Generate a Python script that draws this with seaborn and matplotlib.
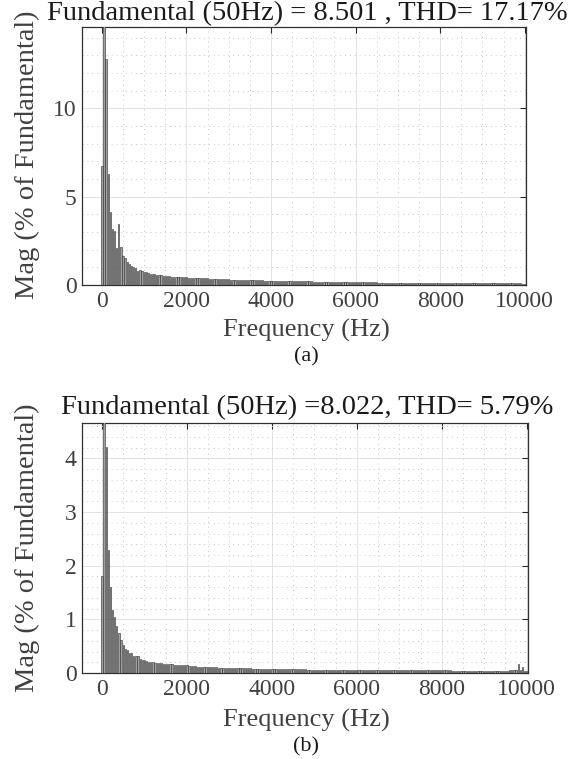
import numpy as np
import pandas as pd
import matplotlib
matplotlib.use("Agg")
import matplotlib.pyplot as plt
from matplotlib.ticker import MultipleLocator
import seaborn as sns

# ---------------- data ----------------
freq_step = 50
titles = ["Fundamental (50Hz) = 8.501 , THD= 17.17%",
          "Fundamental (50Hz) =8.022, THD= 5.79%"]
panel_labels = ["(a)", "(b)"]
x_ticks = [0, 2000, 4000, 6000, 8000, 10000]
y_ticks_a = [0, 5, 10]
y_ticks_b = [0, 1, 2, 3, 4]

mag_a = [
    6.74, 100.0, 12.8, 6.30, 4.14, 3.15, 3.06, 2.10, 3.43, 2.13,
    1.66, 1.53, 1.32, 1.17, 1.07, 1.02, 0.98, 0.79, 0.85, 0.79,
    0.75, 0.71, 0.68, 0.64, 0.62, 0.60, 0.58, 0.56, 0.55, 0.53,
    0.51,
    0.50, 0.49, 0.48, 0.47, 0.47, 0.46, 0.45, 0.44, 0.44, 0.43,
    0.42, 0.42, 0.41, 0.40, 0.40, 0.39, 0.38, 0.38, 0.37, 0.37,
    0.36, 0.36, 0.35, 0.35, 0.34, 0.34, 0.33, 0.33, 0.32, 0.32,
    0.31, 0.31, 0.30, 0.30, 0.30, 0.29, 0.29, 0.28, 0.28, 0.28,
    0.27, 0.27, 0.27, 0.26, 0.26, 0.26, 0.25, 0.25, 0.25, 0.24,
    0.24, 0.24, 0.23, 0.23, 0.23, 0.23, 0.22, 0.22, 0.22, 0.22,
    0.21, 0.21, 0.21, 0.21, 0.20, 0.20, 0.20, 0.20, 0.20, 0.19,
    0.19, 0.19, 0.19, 0.19, 0.18, 0.18, 0.18, 0.18, 0.18, 0.18,
    0.17, 0.17, 0.17, 0.17, 0.17, 0.17, 0.16, 0.16, 0.16, 0.16,
    0.16, 0.16, 0.16, 0.15, 0.15, 0.15, 0.15, 0.15, 0.15, 0.15,
    0.14, 0.14, 0.14, 0.14, 0.14, 0.14, 0.14, 0.14, 0.13, 0.13,
    0.13, 0.13, 0.13, 0.13, 0.13, 0.13, 0.13, 0.12, 0.12, 0.12,
    0.12, 0.12, 0.12, 0.12, 0.12, 0.12, 0.12, 0.11, 0.11, 0.11,
    0.11, 0.11, 0.11, 0.11, 0.11, 0.11, 0.11, 0.11, 0.10, 0.10,
    0.10, 0.10, 0.10, 0.10, 0.10, 0.10, 0.10, 0.10, 0.10, 0.10,
    0.10, 0.09, 0.09, 0.09, 0.09, 0.09, 0.09, 0.09, 0.09, 0.09,
    0.09, 0.09, 0.09, 0.09, 0.09, 0.10, 0.14, 0.09, 0.08, 0.08,
]

mag_b = [
    1.80, 100.0, 4.22, 2.29, 1.60, 1.17, 1.04, 0.87, 0.75, 0.61,
    0.53, 0.45, 0.42, 0.37, 0.37, 0.32, 0.31, 0.31, 0.26, 0.25,
    0.24, 0.23, 0.21, 0.20, 0.20,
    0.19, 0.19, 0.18, 0.18, 0.17, 0.17, 0.16, 0.16, 0.16, 0.15,
    0.15, 0.15, 0.14, 0.14, 0.14, 0.14,
    0.13, 0.13, 0.13, 0.13, 0.12, 0.12, 0.12, 0.12, 0.12, 0.11,
    0.11, 0.11, 0.11, 0.11, 0.10, 0.10, 0.10, 0.10, 0.10, 0.10,
    0.095, 0.095, 0.09, 0.09, 0.09, 0.09, 0.085, 0.085, 0.085, 0.085,
    0.08, 0.08, 0.08, 0.08, 0.08, 0.08, 0.078, 0.078, 0.075, 0.075,
    0.075, 0.075, 0.072, 0.072, 0.072, 0.07, 0.07, 0.07, 0.07, 0.07,
    0.068, 0.068, 0.068, 0.066, 0.066, 0.066, 0.065, 0.065, 0.064, 0.064,
    0.063, 0.063, 0.062, 0.062, 0.062, 0.061, 0.061, 0.06, 0.06, 0.06,
    0.06, 0.059, 0.059, 0.058, 0.058, 0.058, 0.057, 0.057, 0.057, 0.056,
    0.056, 0.056, 0.055, 0.055, 0.055, 0.054, 0.054, 0.054, 0.053, 0.053,
    0.053, 0.053, 0.052, 0.052, 0.052, 0.052, 0.051, 0.051, 0.051, 0.051,
    0.05, 0.05, 0.05, 0.05, 0.05, 0.05, 0.049, 0.049, 0.049, 0.049,
    0.049, 0.048, 0.048, 0.048, 0.048, 0.048, 0.048, 0.047, 0.047, 0.047,
    0.047, 0.047, 0.047, 0.047, 0.046, 0.046, 0.046, 0.046, 0.046, 0.046,
    0.046, 0.045, 0.045, 0.045, 0.045, 0.045, 0.045, 0.045, 0.045, 0.045,
    0.044, 0.044, 0.044, 0.044, 0.044, 0.044, 0.044, 0.044, 0.045, 0.046,
    0.046, 0.047, 0.048, 0.05, 0.06, 0.17, 0.06, 0.11, 0.04, 0.03,
]

freqs = np.arange(len(mag_a)) * freq_step

# ---------------- style ----------------
sns.set_style("white")
plt.rcParams["font.family"] = ["Liberation Serif", "DejaVu Serif"]
TXT = "#262626"

fig = plt.figure(figsize=(5.73, 7.59), dpi=100)
W, H = 573.0, 759.0

def add_axes(l, r, t, b):
    return fig.add_axes([l / W, 1 - b / H, (r - l) / W, (b - t) / H])

ax_a = add_axes(82, 526, 27, 285)
ax_b = add_axes(82, 528, 423, 673)

panels = [
    (ax_a, mag_a, 14.6, y_ticks_a, 1.0, titles[0], panel_labels[0], 14, 330, 357),
    (ax_b, mag_b, 4.66, y_ticks_b, 0.2, titles[1], panel_labels[1], 408, 720, 747),
]

for ax, mags, ymax, yt, yminor, title, plab, ty, xl_y, pl_y in panels:
    df = pd.DataFrame({"freq": freqs, "mag": mags})
    sns.barplot(data=df, x="freq", y="mag", native_scale=True, width=0.6,
                color="#a0a0a0", edgecolor="#2a2a2a", linewidth=0.4,
                saturation=1, errorbar=None, ax=ax, zorder=3)
    ax.set_xlim(-470, 10030)
    ax.set_ylim(0, ymax)
    ax.set_xticks(x_ticks)
    ax.set_yticks(yt)
    ax.xaxis.set_minor_locator(MultipleLocator(500))
    ax.yaxis.set_minor_locator(MultipleLocator(yminor))
    ax.set_axisbelow(True)
    ax.grid(which="major", color="#e3e3e3", linewidth=0.7, linestyle="-")
    ax.grid(which="minor", color="#c8c8c8", linewidth=0.7, linestyle=(0, (1, 4)))
    ax.tick_params(which="major", direction="in", length=4, width=0.8,
                   color=TXT, top=True, right=True, labelsize=17,
                   labelcolor="#404040", pad=4)
    ax.tick_params(which="minor", length=0)
    for s in ax.spines.values():
        s.set_color("#303030")
        s.set_linewidth(0.9)
        s.set_visible(True)
    ax.set_xlabel("")
    ax.set_ylabel("")
    fig.text(307 / W, 1 - ty / H, title, ha="center", va="center",
             fontsize=20.5, color="#1a1a1a")
    fig.text(306 / W, 1 - xl_y / H, "Frequency (Hz)", ha="center", va="center",
             fontsize=19, color="#404040")
    fig.text(306 / W, 1 - pl_y / H, plab, ha="center", va="center",
             fontsize=16, color="#1a1a1a")

fig.text(27 / W, 1 - 155 / H, "Mag (% of Fundamental)", rotation=90,
         ha="center", va="center", fontsize=20.5, color="#404040")
fig.text(27 / W, 1 - 548 / H, "Mag (% of Fundamental)", rotation=90,
         ha="center", va="center", fontsize=20.5, color="#404040")

fig.savefig("out.png", dpi=100)
